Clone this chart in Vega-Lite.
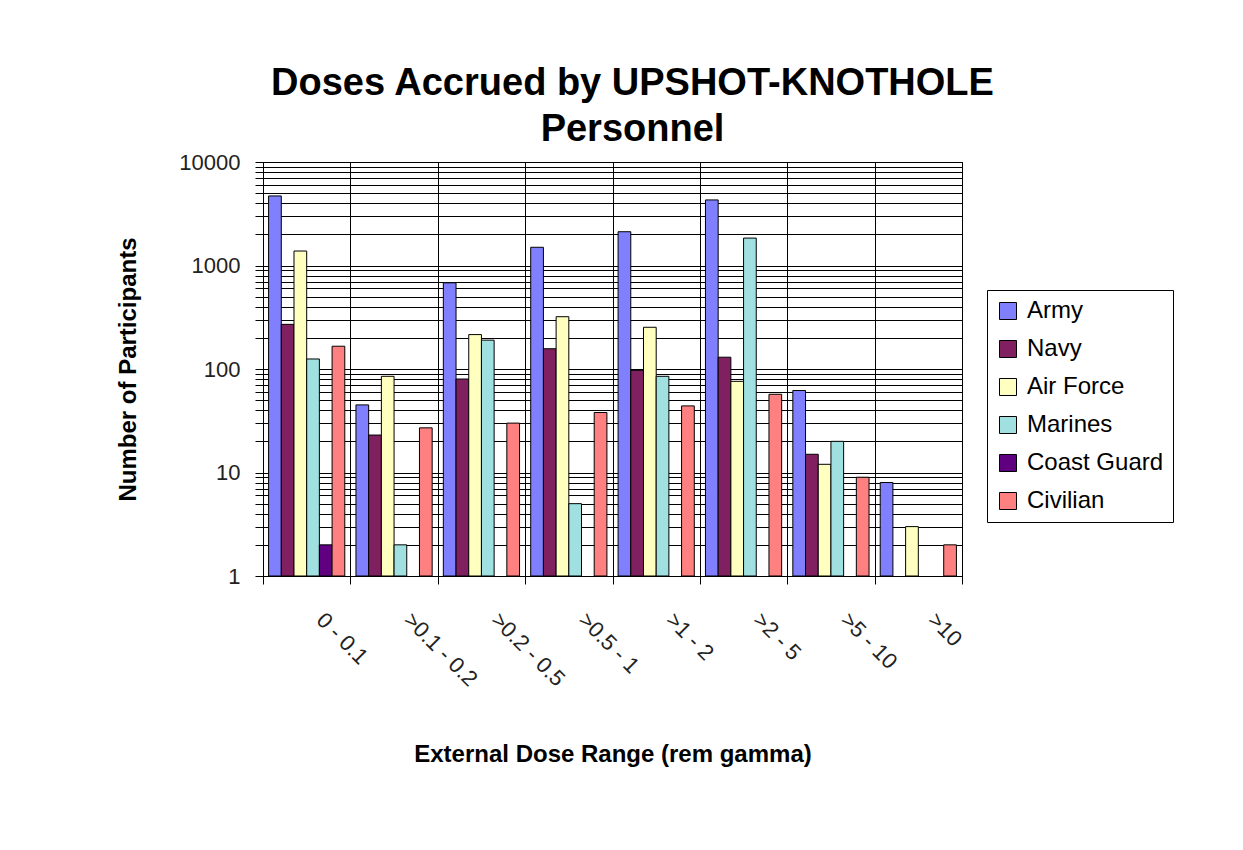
{
  "$schema": "https://vega.github.io/schema/vega-lite/v6.json",
  "autosize": {"type": "none"},
  "padding": {"left": 263, "top": 162, "right": 281, "bottom": 274},
  "width": 699,
  "height": 414,
  "background": "white",
  "title": {
    "text": ["Doses Accrued by UPSHOT-KNOTHOLE", "Personnel"],
    "font": "Liberation Sans",
    "fontSize": 38,
    "fontWeight": "bold",
    "color": "black",
    "lineHeight": 46,
    "anchor": "middle",
    "dx": 20,
    "offset": 2
  },
  "data": {
    "values": [
      {"range": "0 - 0.1", "service": "Army", "count": 4700},
      {"range": "0 - 0.1", "service": "Navy", "count": 270},
      {"range": "0 - 0.1", "service": "Air Force", "count": 1380},
      {"range": "0 - 0.1", "service": "Marines", "count": 125},
      {"range": "0 - 0.1", "service": "Coast Guard", "count": 2},
      {"range": "0 - 0.1", "service": "Civilian", "count": 166},
      {"range": ">0.1 - 0.2", "service": "Army", "count": 45},
      {"range": ">0.1 - 0.2", "service": "Navy", "count": 23},
      {"range": ">0.1 - 0.2", "service": "Air Force", "count": 85},
      {"range": ">0.1 - 0.2", "service": "Marines", "count": 2},
      {"range": ">0.1 - 0.2", "service": "Civilian", "count": 27},
      {"range": ">0.2 - 0.5", "service": "Army", "count": 680},
      {"range": ">0.2 - 0.5", "service": "Navy", "count": 80},
      {"range": ">0.2 - 0.5", "service": "Air Force", "count": 215},
      {"range": ">0.2 - 0.5", "service": "Marines", "count": 190},
      {"range": ">0.2 - 0.5", "service": "Civilian", "count": 30},
      {"range": ">0.5 - 1", "service": "Army", "count": 1500},
      {"range": ">0.5 - 1", "service": "Navy", "count": 157},
      {"range": ">0.5 - 1", "service": "Air Force", "count": 320},
      {"range": ">0.5 - 1", "service": "Marines", "count": 5},
      {"range": ">0.5 - 1", "service": "Civilian", "count": 38},
      {"range": ">1 - 2", "service": "Army", "count": 2120},
      {"range": ">1 - 2", "service": "Navy", "count": 97},
      {"range": ">1 - 2", "service": "Air Force", "count": 253},
      {"range": ">1 - 2", "service": "Marines", "count": 85},
      {"range": ">1 - 2", "service": "Civilian", "count": 44},
      {"range": ">2 - 5", "service": "Army", "count": 4300},
      {"range": ">2 - 5", "service": "Navy", "count": 130},
      {"range": ">2 - 5", "service": "Air Force", "count": 76},
      {"range": ">2 - 5", "service": "Marines", "count": 1840},
      {"range": ">2 - 5", "service": "Civilian", "count": 57},
      {"range": ">5 - 10", "service": "Army", "count": 62},
      {"range": ">5 - 10", "service": "Navy", "count": 15},
      {"range": ">5 - 10", "service": "Air Force", "count": 12},
      {"range": ">5 - 10", "service": "Marines", "count": 20},
      {"range": ">5 - 10", "service": "Civilian", "count": 9},
      {"range": ">10", "service": "Army", "count": 8},
      {"range": ">10", "service": "Air Force", "count": 3},
      {"range": ">10", "service": "Civilian", "count": 2}
    ]
  },
  "mark": {"type": "bar", "stroke": "black", "strokeWidth": 1},
  "encoding": {
    "x": {
      "field": "range",
      "type": "nominal",
      "sort": null,
      "scale": {"paddingInner": 0, "paddingOuter": 0},
      "axis": {
        "title": "External Dose Range (rem gamma)",
        "titleFont": "Liberation Sans",
        "titleFontSize": 24,
        "titleFontWeight": "bold",
        "titleColor": "black",
        "titlePadding": 52,
        "labelAngle": 45,
        "labelAlign": "left",
        "labelBaseline": "top",
        "labelFont": "Liberation Sans",
        "labelFontSize": 22,
        "labelColor": "#222222",
        "labelPadding": 25,
        "labelOffset": 20,
        "tickBand": "extent",
        "grid": true,
        "gridColor": "black",
        "gridOpacity": 1,
        "gridWidth": 1,
        "domainColor": "black",
        "tickColor": "black",
        "tickSize": 8
      }
    },
    "xOffset": {
      "field": "service",
      "type": "nominal",
      "scale": {"domain": ["Army", "Navy", "Air Force", "Marines", "Coast Guard", "Civilian"], "paddingInner": 0, "paddingOuter": 0.44}
    },
    "y": {
      "field": "count",
      "type": "quantitative",
      "scale": {"type": "log", "domain": [1, 10000]},
      "axis": {
        "title": "Number of Participants",
        "titleFont": "Liberation Sans",
        "titleFontSize": 24,
        "titleFontWeight": "bold",
        "titleColor": "black",
        "titlePadding": 38,
        "values": [1,2,3,4,5,6,7,8,9,10,20,30,40,50,60,70,80,90,100,200,300,400,500,600,700,800,900,1000,2000,3000,4000,5000,6000,7000,8000,9000,10000],
        "format": "d",
        "labelExpr": "(datum.value == 1 || datum.value == 10 || datum.value == 100 || datum.value == 1000 || datum.value == 10000) ? datum.label : ''",
        "labelFont": "Liberation Sans",
        "labelFontSize": 22,
        "labelColor": "#222222",
        "labelPadding": 15,
        "tickSize": 8,
        "tickColor": "black",
        "domainColor": "black",
        "grid": true,
        "gridColor": "black",
        "gridOpacity": 1,
        "gridWidth": 1,
        "labelOverlap": false
      }
    },
    "y2": {"datum": 1},
    "color": {
      "field": "service",
      "type": "nominal",
      "scale": {
        "domain": ["Army", "Navy", "Air Force", "Marines", "Coast Guard", "Civilian"],
        "range": ["#8080FF", "#802060", "#FFFFC0", "#A0E0E0", "#600080", "#FF8080"]
      },
      "legend": {
        "title": null,
        "orient": "none",
        "legendX": 724,
        "legendY": 128,
        "padding": 9,
        "strokeColor": "black",
        "fillColor": "white",
        "symbolType": "square",
        "symbolSize": 289,
        "symbolStrokeColor": "black",
        "symbolStrokeWidth": 1,
        "labelFont": "Liberation Sans",
        "labelFontSize": 24,
        "labelColor": "black",
        "labelOffset": 7,
        "rowPadding": 14
      }
    }
  },
  "config": {
    "view": {"stroke": "black", "strokeWidth": 1}
  }
}
